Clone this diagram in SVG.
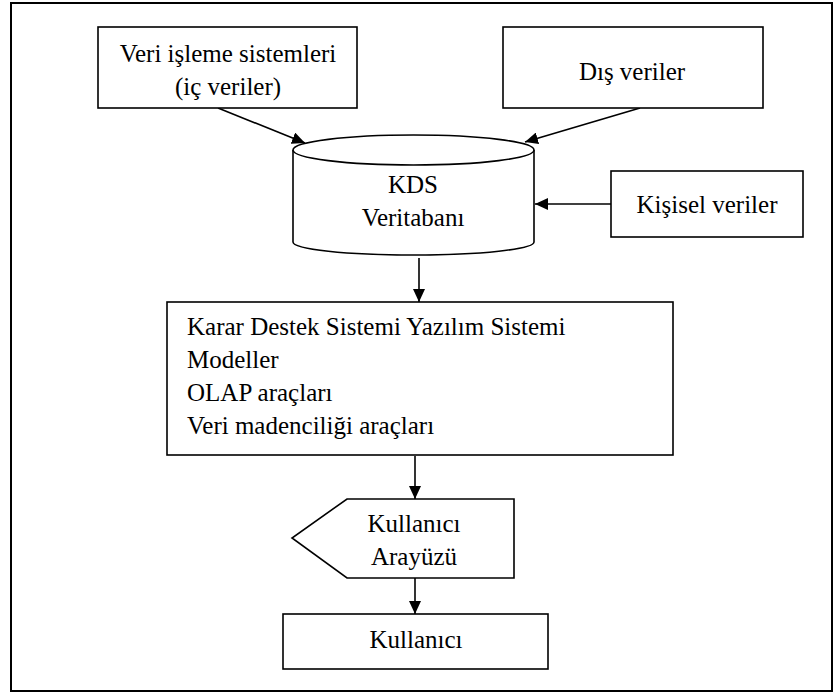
<svg xmlns="http://www.w3.org/2000/svg" width="834" height="692" viewBox="0 0 834 692">
<style>
.box{fill:#fff;stroke:#000;stroke-width:1.6}
.t{font-family:"Liberation Serif","Times New Roman",serif;font-size:25px;fill:#000}
.c{text-anchor:middle}
.ln{stroke:#000;stroke-width:1.6;fill:none;marker-end:url(#ah)}
</style>
<defs>
<marker id="ah" markerUnits="userSpaceOnUse" markerWidth="14" markerHeight="12" refX="13" refY="6" orient="auto">
<path d="M0,0 L13,6 L0,12 z" fill="#000"/>
</marker>
</defs>
<rect x="11" y="3" width="821" height="688" fill="#fff" stroke="#000" stroke-width="2"/>
<g id="connectors">
<line class="ln" x1="218" y1="108" x2="305" y2="143"/>
<line class="ln" x1="640" y1="108" x2="525" y2="142"/>
<line class="ln" x1="611" y1="204" x2="535" y2="204"/>
<line class="ln" x1="419" y1="258" x2="419" y2="302"/>
<line class="ln" x1="415" y1="456" x2="415" y2="499"/>
<line class="ln" x1="415" y1="578" x2="415" y2="614"/>
</g>
<g id="veri-isleme">
<rect class="box" x="98" y="27" width="259" height="81"/>
<text class="t c" x="228" y="62">Veri işleme sistemleri</text>
<text class="t c" x="228" y="95">(iç veriler)</text>
</g>
<g id="dis-veriler">
<rect class="box" x="503" y="27" width="260" height="81"/>
<text class="t c" x="632" y="80">Dış veriler</text>
</g>
<g id="kds-veritabani">
<path class="box" d="M293,150 L293,242 A120.5,13 0 0 0 534,242 L534,150"/>
<ellipse class="box" cx="413.5" cy="150" rx="120.5" ry="15"/>
<text class="t c" x="413" y="193">KDS</text>
<text class="t c" x="413" y="226">Veritabanı</text>
</g>
<g id="kisisel-veriler">
<rect class="box" x="611" y="171" width="192" height="66"/>
<text class="t c" x="707" y="213">Kişisel veriler</text>
</g>
<g id="kds-yazilim">
<rect class="box" x="167" y="302" width="506" height="153"/>
<text class="t" x="187" y="335">Karar Destek Sistemi Yazılım Sistemi</text>
<text class="t" x="187" y="368">Modeller</text>
<text class="t" x="187" y="401">OLAP araçları</text>
<text class="t" x="187" y="434">Veri madenciliği araçları</text>
</g>
<g id="kullanici-arayuzu">
<polygon class="box" points="347,499 514,499 514,578 347,578 292,538"/>
<text class="t c" x="414" y="532">Kullanıcı</text>
<text class="t c" x="414" y="565">Arayüzü</text>
</g>
<g id="kullanici">
<rect class="box" x="283" y="614" width="265" height="55"/>
<text class="t c" x="416" y="648">Kullanıcı</text>
</g>
</svg>
